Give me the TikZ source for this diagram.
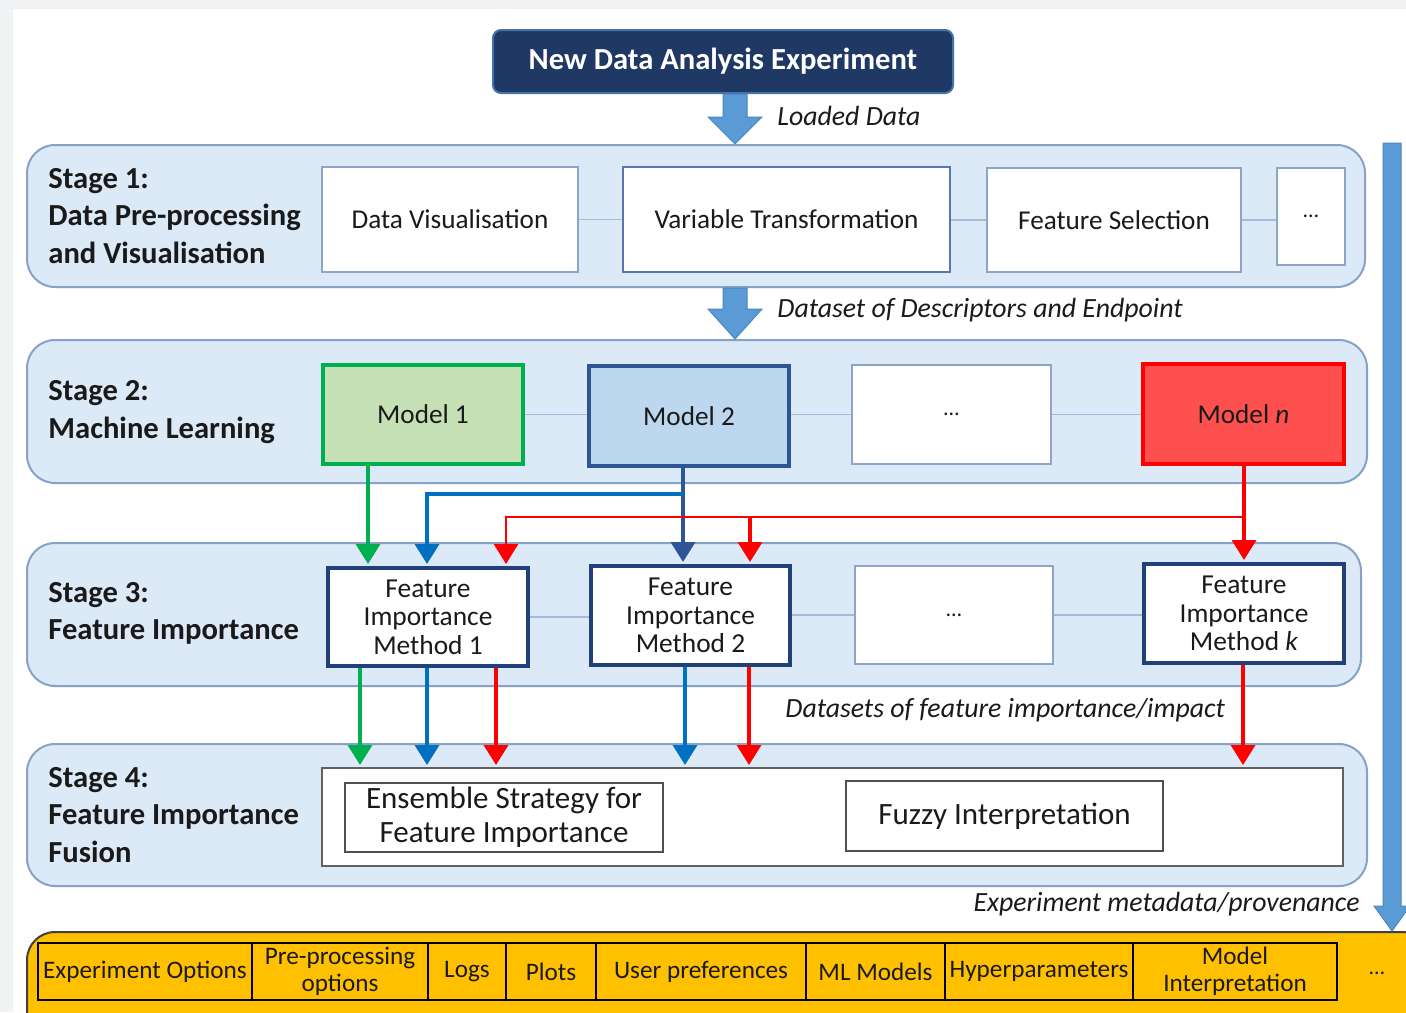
\documentclass[tikz,border=0pt]{standalone}
\usepackage{fontspec}
\setmainfont{Carlito}
\usetikzlibrary{calc,arrows.meta}

\definecolor{ink}{HTML}{1A1A1A}
\definecolor{pagegrey}{HTML}{F1F2F4}
\definecolor{stagefill}{HTML}{DCE9F6}
\definecolor{stageline}{HTML}{86A2C6}
\definecolor{boxline}{HTML}{8EA5C8}
\definecolor{linkblue}{HTML}{A3BCDC}
\definecolor{arrowblue}{HTML}{5B9BD5}
\definecolor{arrowedge}{HTML}{4A86C0}
\definecolor{navy}{HTML}{1F3864}
\definecolor{navyedge}{HTML}{4472A8}
\definecolor{fimline}{HTML}{22407A}
\definecolor{mgreen}{HTML}{00B050}
\definecolor{mgreenfill}{HTML}{C5E0B4}
\definecolor{mblue}{HTML}{2F5597}
\definecolor{mbluefill}{HTML}{BDD7EE}
\definecolor{flowblue}{HTML}{0070C0}
\definecolor{mred}{HTML}{FF0000}
\definecolor{mredfill}{HTML}{FF5050}
\definecolor{gold}{HTML}{FFC000}
\definecolor{goldedge}{HTML}{404040}
\definecolor{fusionline}{HTML}{505050}

\begin{document}
\begin{tikzpicture}[x=0.5pt,y=-0.5pt,
  stage/.style={draw=stageline, fill=stagefill, line width=1pt, rounded corners=14pt, inner sep=0pt},
  stagetitle/.style={anchor=west, align=left, inner sep=0pt, text=ink,
    font=\bfseries\fontsize{15.3}{18.75}\selectfont},
  plainbox/.style={draw=boxline, fill=white, line width=0.9pt, inner sep=0pt, text=ink,
    font=\fontsize{13.6}{16}\selectfont},
  modelbox/.style={line width=2pt, inner sep=0pt, text=ink, font=\fontsize{13.6}{16}\selectfont},
  fimbox/.style={draw=fimline, fill=white, line width=2pt, inner sep=0pt, align=center, text=ink,
    font=\fontsize{13.7}{14.2}\selectfont},
  fusebox/.style={draw=fusionline, fill=white, line width=1pt, inner sep=0pt, align=center, text=ink,
    font=\fontsize{15.5}{17}\selectfont},
  cell/.style={draw=black, line width=1pt, inner sep=0pt, align=center, text=ink,
    minimum height=28.5pt, font=\fontsize{12.6}{13.5}\selectfont},
  link/.style={draw=linkblue, line width=0.8pt},
  flow/.style={line width=1.8pt, -{Triangle[width=12pt,length=10pt]}, shorten >=1pt},
  caption/.style={inner sep=0pt, text=ink, font=\itshape\fontsize{13.9}{17}\selectfont},
  blockarrow/.style={fill=arrowblue, draw=arrowedge, line width=0.5pt}
]
\useasboundingbox (0,0) rectangle (1406,1012);
\clip (0,0) rectangle (1406,1012);

% page background
\fill[pagegrey] (0,0) rectangle (1406,1012);
\fill[white] (13,9) rectangle (1406,1012);

% header
\node[draw=navyedge, fill=navy, line width=1pt, rounded corners=4pt,
      minimum width=230pt, minimum height=31.5pt, inner sep=0pt,
      text=white, font=\bfseries\fontsize{15.3}{18}\selectfont] (hdr) at (723,61.5)
      {New Data Analysis Experiment};

% stage containers
\node[stage, minimum width=669pt, minimum height=71pt]   (s1) at (696,216) {};
\node[stage, minimum width=670pt, minimum height=71.5pt] (s2) at (697,411.5) {};
\node[stage, minimum width=667pt, minimum height=71.5pt] (s3) at (694,614.5) {};
\node[stage, minimum width=670pt, minimum height=71pt]   (s4) at (697,815) {};

\node[stagetitle] (t1) at (48,216) {Stage 1:\\Data Pre-processing\\and Visualisation};
\node[stagetitle] (t2) at (48,412) {Stage 2:\\Machine Learning};
\node[stagetitle] (t3) at (48,613.5) {Stage 3:\\Feature Importance};
\node[stagetitle] (t4) at (48,815) {Stage 4:\\Feature Importance\\Fusion};

% stage 1 boxes
\node[plainbox, minimum width=128pt, minimum height=52.5pt] (dv) at (450,219.5) {Data Visualisation};
\node[plainbox, draw=mblue!80, line width=1.2pt, minimum width=163.5pt, minimum height=52.5pt] (vt) at (786.5,219.5) {Variable Transformation};
\node[plainbox, minimum width=127pt, minimum height=52pt] (fs) at (1114,220) {Feature Selection};
\node[plainbox, minimum width=34pt, minimum height=48.5pt, font=\fontsize{11}{13}\selectfont] (e1) at (1311,216.5) {\dots};
\draw[link] (dv) -- (vt);
\draw[link] (vt.east |- fs.west) -- (fs.west);
\draw[link] (fs.east) -- (fs.east -| e1.west);

% stage 2 boxes
\node[modelbox, draw=mgreen, fill=mgreenfill, minimum width=100pt, minimum height=49.5pt] (m1) at (423,414.5) {Model 1};
\node[modelbox, draw=mblue, fill=mbluefill, minimum width=100pt, minimum height=50pt] (m2) at (689,416) {Model 2};
\node[plainbox, minimum width=99.5pt, minimum height=49.5pt, font=\fontsize{11}{13}\selectfont] (e2) at (951.5,414.5) {\dots};
\node[modelbox, draw=mred, fill=mredfill, minimum width=100.5pt, minimum height=50pt] (mn) at (1243.5,414) {Model \textit{n}};
\draw[link] (m1.east) -- (m1.east -| m2.west);
\draw[link] (m2.east |- e2.west) -- (e2.west);
\draw[link] (e2.east) -- (e2.east -| mn.west);

% stage 3 boxes
\node[fimbox, minimum width=100pt, minimum height=49pt] (f1) at (428,617) {Feature\\Importance\\Method 1};
\node[fimbox, minimum width=99.5pt, minimum height=49.5pt] (f2) at (690.5,615.5) {Feature\\Importance\\Method 2};
\node[plainbox, minimum width=99pt, minimum height=49pt, font=\fontsize{11}{13}\selectfont] (e3) at (954,615) {\dots};
\node[fimbox, minimum width=100pt, minimum height=49.5pt] (fk) at (1244,613.5) {Feature\\Importance\\Method \textit{k}};
\draw[link] (f1.east) -- (f1.east -| f2.west);
\draw[link] (f2.east |- e3.west) -- (e3.west);
\draw[link] (e3.east) -- (e3.east -| fk.west);

% stage 4 boxes
\node[fusebox, draw=fusionline!90, minimum width=510.5pt, minimum height=49pt] (big) at (832.5,817) {};
\node[fusebox, minimum width=159pt, minimum height=34.5pt] (ens) at (504,817.5) {Ensemble Strategy for\\Feature Importance};
\node[fusebox, minimum width=158.5pt, minimum height=35pt] (fuz) at (1004.5,816) {Fuzzy Interpretation};

% block arrows between the top stages
\coordinate (ax) at (735,0);
\draw[blockarrow] ($(hdr.south -| ax)+(-12,0)$) -- ($(hdr.south -| ax)+(12,0)$)
  -- ($(s1.north -| ax)+(12,-27)$) -- ($(s1.north -| ax)+(27,-27)$) -- (s1.north -| ax)
  -- ($(s1.north -| ax)+(-27,-27)$) -- ($(s1.north -| ax)+(-12,-27)$) -- cycle;
\draw[blockarrow] ($(s1.south -| ax)+(-12,0)$) -- ($(s1.south -| ax)+(12,0)$)
  -- ($(s2.north -| ax)+(12,-30)$) -- ($(s2.north -| ax)+(27,-30)$) -- (s2.north -| ax)
  -- ($(s2.north -| ax)+(-27,-30)$) -- ($(s2.north -| ax)+(-12,-30)$) -- cycle;
\node[caption, anchor=west] (lbl1) at (777,116) {Loaded Data};
\node[caption, anchor=west] (lbl2) at (777,310) {Dataset of Descriptors and Endpoint};
\node[caption, anchor=west] (lbl3) at (785,710) {Datasets of feature importance/impact};
\node[caption, anchor=east] (lbl4) at (1360,904) {Experiment metadata/provenance};

% metadata store bar
\node[draw=goldedge, fill=gold, line width=1pt, rounded corners=14pt, inner sep=0pt,
      minimum width=701.5pt, minimum height=54pt] (bar) at (728.5,986) {};
\node[cell, minimum width=107pt]  (c1) at (145,971.5)   {Experiment Options};
\node[cell, minimum width=88pt]   (c2) at (340,971.5)   {Pre-processing\\options};
\node[cell, minimum width=39pt]   (c3) at (467,971.5)   {Logs};
\node[cell, minimum width=45pt]   (c4) at (551,971.5)   {Plots};
\node[cell, minimum width=105pt]  (c5) at (701,971.5)   {User preferences};
\node[cell, minimum width=69.5pt] (c6) at (875.5,971.5) {ML Models};
\node[cell, minimum width=94pt]   (c7) at (1039,971.5)  {Hyperparameters};
\node[cell, minimum width=102pt]  (c8) at (1235,971.5)  {Model\\Interpretation};
\node[inner sep=0pt, text=ink, font=\fontsize{11}{13}\selectfont] (c9) at (1377,973) {\dots};

% provenance arrow down the right side
\coordinate (rx) at (1392,143);
\draw[blockarrow] ($(rx)+(-9,0)$) -- ($(rx)+(9,0)$) -- ($(bar.north -| rx)+(9,-25)$)
  -- ($(bar.north -| rx)+(18,-25)$) -- (bar.north -| rx) -- ($(bar.north -| rx)+(-18,-25)$)
  -- ($(bar.north -| rx)+(-9,-25)$) -- cycle;

% model -> feature importance flows
\coordinate (ug) at (368,0);
\coordinate (ub1) at (427,0);
\coordinate (ub2) at (683,0);
\coordinate (ur1) at (506,0);
\coordinate (ur2) at (750,0);
\coordinate (urk) at (1244,0);
\coordinate (yb) at (0,494);
\coordinate (yr) at (0,517);

\draw[flow, mgreen] (m1.south -| ug) -- (f1.north -| ug);
\draw[flow, mblue] (m2.south -| ub2) -- (f2.north -| ub2);
\draw[flow, flowblue] (ub2 |- yb) -- (ub1 |- yb) -- (f1.north -| ub1);
\draw[flow, mred] (mn.south -| urk) -- (fk.north -| urk);
\draw[flow, mred, line width=1.4pt] (urk |- yr) -- (ur1 |- yr) -- (f1.north -| ur1);
\draw[flow, mred] (ur2 |- yr) -- (f2.north -| ur2);

% feature importance -> fusion flows
\coordinate (vg) at (360,0);
\coordinate (vb1) at (427,0);
\coordinate (vr1) at (496,0);
\coordinate (vb2) at (685,0);
\coordinate (vr2) at (749,0);
\coordinate (vrk) at (1243,0);
\draw[flow, mgreen] (f1.south -| vg) -- (big.north -| vg);
\draw[flow, flowblue] (f1.south -| vb1) -- (big.north -| vb1);
\draw[flow, mred] (f1.south -| vr1) -- (big.north -| vr1);
\draw[flow, flowblue] (f2.south -| vb2) -- (big.north -| vb2);
\draw[flow, mred] (f2.south -| vr2) -- (big.north -| vr2);
\draw[flow, mred] (fk.south -| vrk) -- (big.north -| vrk);
\end{tikzpicture}
\end{document}
